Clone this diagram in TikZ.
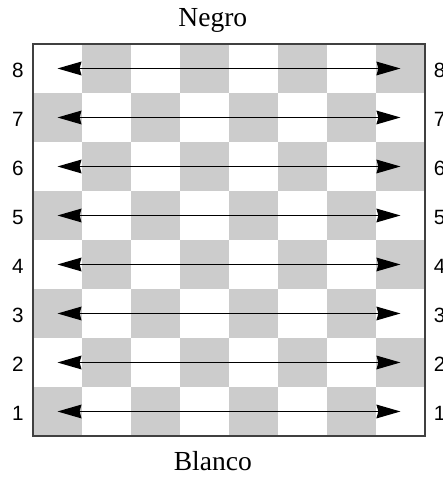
\documentclass[tikz,border=0pt]{standalone}
\usepackage{fontspec}
\setmainfont{Liberation Serif}
\newfontfamily\rankfont{Liberation Sans}
\usetikzlibrary{arrows.meta}
\definecolor{darksq}{RGB}{204,204,204}
\definecolor{edgegray}{RGB}{64,64,64}

\begin{document}
\begin{tikzpicture}[
    x=1cm, y=1cm,
    board/.style={draw=edgegray, line width=0.7pt},
    rank/.style={font=\rankfont\fontsize{12}{14}\selectfont},
    side/.style={font=\fontsize{16}{19}\selectfont, anchor=base},
    move/.style={line width=0.7pt, {Stealth[length=0.49cm, width=0.28cm, inset=0.04cm]}-{Stealth[length=0.49cm, width=0.28cm, inset=0.04cm]}}
]
    \useasboundingbox (-0.673,-0.837) rectangle (8.367,8.898);

    % Squares
    \foreach \i in {1,...,8} {
        \foreach \j in {1,...,8} {
            \pgfmathtruncatemacro{\parity}{mod(\i+\j,2)}
            \ifnum\parity=0
                \fill[darksq] (\i-1,\j-1) rectangle (\i,\j);
            \fi
        }
    }

    % Board edge
    \draw[board] (0,0) rectangle (8,8);

    % Ranks and moves
    \foreach \r in {1,...,8} {
        \node[rank] (lrank\r) at (-0.31,\r-0.54) {\r};
        \node[rank] (rrank\r) at (8.3,\r-0.54) {\r};
        \coordinate (west\r) at (0.5,\r-0.5);
        \coordinate (east\r) at (7.5,\r-0.5);
        \draw[move] (west\r) -- (east\r);
    }

    % Sides
    \node[side] (negro) at (3.67,8.367) {Negro};
    \node[side] (blanco) at (3.67,-0.714) {Blanco};
\end{tikzpicture}
\end{document}
